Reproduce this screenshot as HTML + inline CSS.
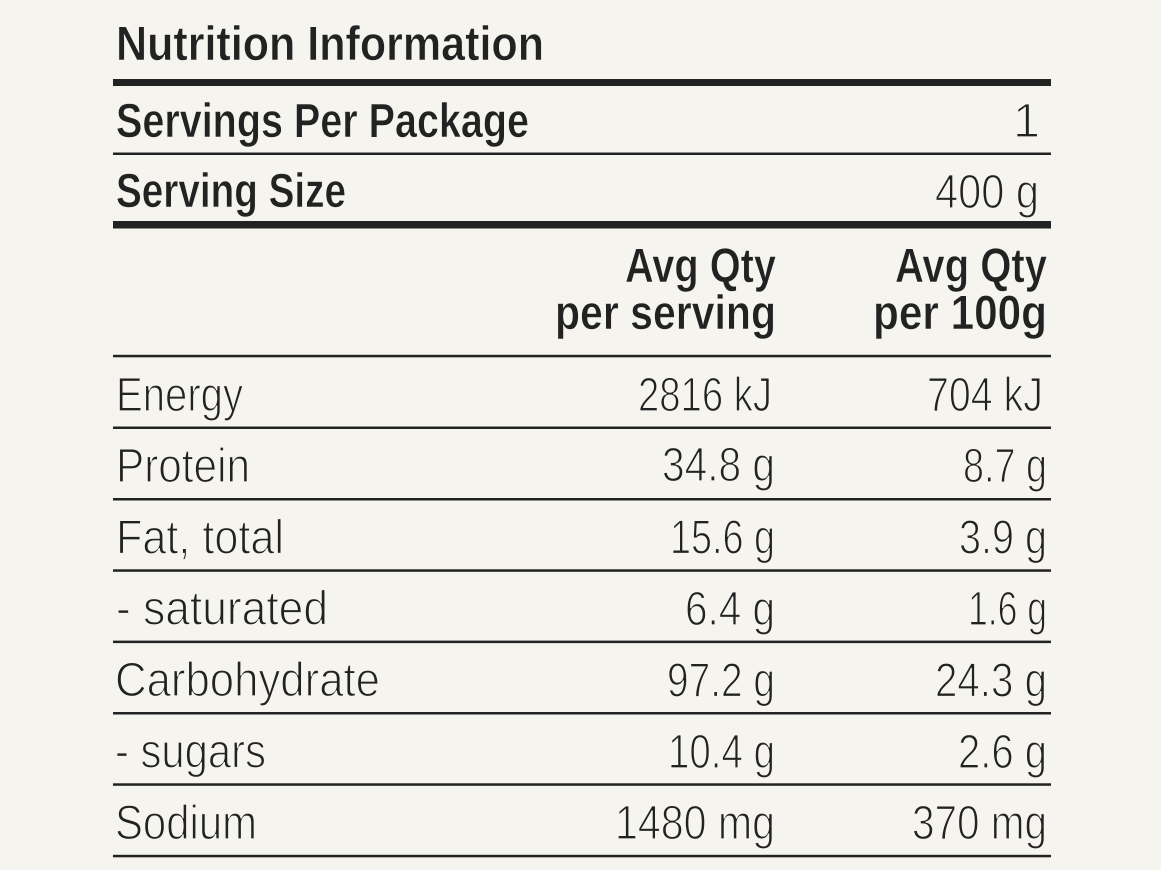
<!DOCTYPE html>
<html>
<head>
<meta charset="utf-8">
<style>
  html, body { margin: 0; padding: 0; background: #f5f4ef; }
  svg { display: block; }
  .b { font-family: "Liberation Sans", sans-serif; font-weight: bold; font-size: 48px; fill: #222; stroke: #f5f4ef; stroke-width: 0.6; }
  .l { font-family: "Liberation Sans", sans-serif; font-weight: normal; font-size: 48.5px; fill: #222; stroke: #f5f4ef; stroke-width: 1.3; }
</style>
</head>
<body>
<svg width="1161" height="870" viewBox="0 0 1161 870" xmlns="http://www.w3.org/2000/svg">
  <rect x="0" y="0" width="1161" height="870" fill="#f5f4ef"/>

  <!-- rules -->
  <rect x="113" y="79" width="938" height="7" fill="#222"/>
  <rect x="113" y="152.5" width="938" height="2.5" fill="#222"/>
  <rect x="113" y="221" width="938" height="7.5" fill="#222"/>
  <rect x="113" y="354.8" width="938" height="2.5" fill="#222"/>
  <rect x="113" y="426.5" width="938" height="2.5" fill="#222"/>
  <rect x="113" y="498" width="938" height="2.5" fill="#222"/>
  <rect x="113" y="569.3" width="938" height="2.5" fill="#222"/>
  <rect x="113" y="640.6" width="938" height="2.5" fill="#222"/>
  <rect x="113" y="712" width="938" height="2.5" fill="#222"/>
  <rect x="113" y="783.3" width="938" height="2.5" fill="#222"/>
  <rect x="113" y="854.8" width="938" height="2.5" fill="#222"/>

  <!-- title & header rows -->
  <text class="b" x="116" y="60" textLength="428" lengthAdjust="spacingAndGlyphs">Nutrition Information</text>
  <text class="b" x="116" y="137" textLength="413" lengthAdjust="spacingAndGlyphs">Servings Per Package</text>
  <text class="l" x="1040" y="137" text-anchor="end">1</text>
  <text class="b" x="116" y="207" textLength="230" lengthAdjust="spacingAndGlyphs">Serving Size</text>
  <text class="l" x="935" y="208" textLength="104" lengthAdjust="spacingAndGlyphs">400 g</text>

  <text class="b" x="625" y="282" textLength="151" lengthAdjust="spacingAndGlyphs">Avg Qty</text>
  <text class="b" x="555" y="329" textLength="221" lengthAdjust="spacingAndGlyphs">per serving</text>
  <text class="b" x="895" y="282" textLength="152" lengthAdjust="spacingAndGlyphs">Avg Qty</text>
  <text class="b" x="873" y="329" textLength="174" lengthAdjust="spacingAndGlyphs">per 100g</text>

  <!-- data rows -->
  <text class="l" x="116" y="411" textLength="127" lengthAdjust="spacingAndGlyphs">Energy</text>
  <text class="l" x="638" y="411" textLength="134" lengthAdjust="spacingAndGlyphs">2816 kJ</text>
  <text class="l" x="927" y="411" textLength="116" lengthAdjust="spacingAndGlyphs">704 kJ</text>

  <text class="l" x="116" y="482" textLength="134" lengthAdjust="spacingAndGlyphs">Protein</text>
  <text class="l" x="662" y="481" textLength="113" lengthAdjust="spacingAndGlyphs">34.8 g</text>
  <text class="l" x="963" y="482" textLength="84" lengthAdjust="spacingAndGlyphs">8.7 g</text>

  <text class="l" x="116" y="553.5" textLength="168" lengthAdjust="spacingAndGlyphs">Fat, total</text>
  <text class="l" x="670" y="553.5" textLength="105" lengthAdjust="spacingAndGlyphs">15.6 g</text>
  <text class="l" x="959" y="553.5" textLength="88" lengthAdjust="spacingAndGlyphs">3.9 g</text>

  <text class="l" x="116" y="624.5" textLength="212" lengthAdjust="spacingAndGlyphs">- saturated</text>
  <text class="l" x="685" y="625" textLength="90" lengthAdjust="spacingAndGlyphs">6.4 g</text>
  <text class="l" x="968" y="625" textLength="79" lengthAdjust="spacingAndGlyphs">1.6 g</text>

  <text class="l" x="115" y="696" textLength="265" lengthAdjust="spacingAndGlyphs">Carbohydrate</text>
  <text class="l" x="667" y="696.5" textLength="108" lengthAdjust="spacingAndGlyphs">97.2 g</text>
  <text class="l" x="935" y="696.5" textLength="112" lengthAdjust="spacingAndGlyphs">24.3 g</text>

  <text class="l" x="115" y="767.5" textLength="151" lengthAdjust="spacingAndGlyphs">- sugars</text>
  <text class="l" x="668" y="768" textLength="107" lengthAdjust="spacingAndGlyphs">10.4 g</text>
  <text class="l" x="958" y="768" textLength="89" lengthAdjust="spacingAndGlyphs">2.6 g</text>

  <text class="l" x="115" y="839" textLength="142" lengthAdjust="spacingAndGlyphs">Sodium</text>
  <text class="l" x="615" y="839" textLength="160" lengthAdjust="spacingAndGlyphs">1480 mg</text>
  <text class="l" x="912" y="839" textLength="135" lengthAdjust="spacingAndGlyphs">370 mg</text>
</svg>
</body>
</html>
